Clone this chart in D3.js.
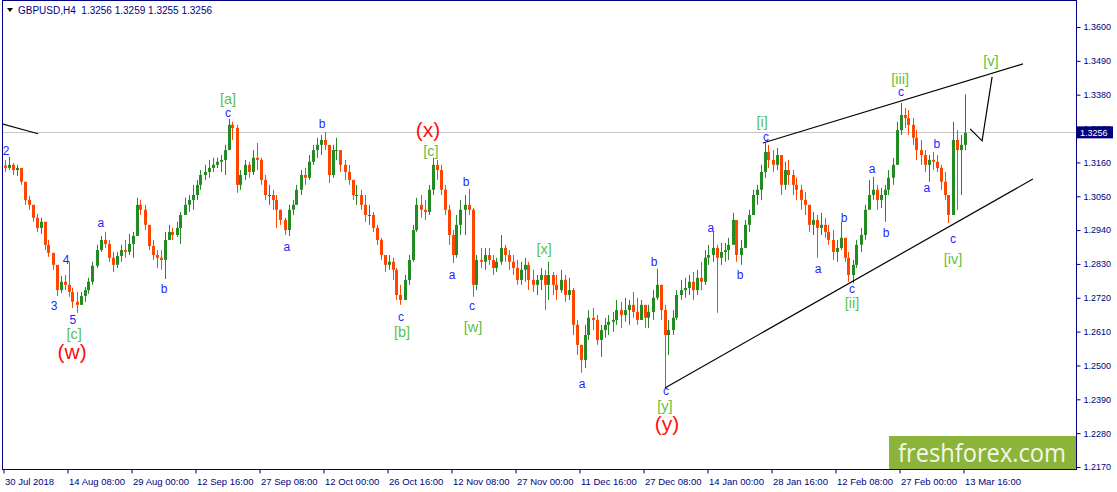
<!DOCTYPE html>
<html><head><meta charset="utf-8">
<script src="https://cdn.jsdelivr.net/npm/d3@7"></script>
<style>body{margin:0;background:#fff} svg{display:block}</style>
</head><body>
<svg id="c" width="1117" height="492"></svg>
<script>
const symbolTitle = "GBPUSD,H4  1.3256 1.3259 1.3255 1.3256";
const firstOpen = 1.3150;
const highs = [
1.3168,1.3178,1.3158,1.3152,1.3142,1.3077,1.3051,1.3022,1.2993,1.2980,
1.2928,1.2908,1.2859,1.2817,1.2791,1.2794,1.2837,1.2752,1.2739,1.2739,
1.2755,1.2785,1.2837,1.2892,1.2921,1.2934,1.2908,1.2869,1.2869,1.2892,
1.2908,1.2928,1.2934,1.3045,1.3038,1.3022,1.2940,1.2908,1.2875,1.2875,
1.2934,1.2957,1.2947,1.2967,1.2999,1.3045,1.3054,1.3087,1.3103,1.3135,
1.3152,1.3168,1.3175,1.3175,1.3184,1.3217,1.3301,1.3292,1.3282,1.3135,
1.3168,1.3162,1.3200,1.3223,1.3175,1.3119,1.3087,1.3071,1.3054,1.3006,
1.2980,1.3022,1.3038,1.3087,1.3135,1.3142,1.3184,1.3217,1.3240,1.3249,
1.3259,1.3200,1.3217,1.3240,1.3200,1.3168,1.3152,1.3103,1.3087,1.3071,
1.3054,1.3022,1.2999,1.2957,1.2915,1.2850,1.2859,1.2850,1.2817,1.2762,
1.2794,1.2859,1.2957,1.3045,1.3054,1.3038,1.3087,1.3175,1.3168,1.3152,
1.3087,1.3022,1.2940,1.2989,1.3038,1.3054,1.3074,1.3012,1.2859,1.2882,
1.2882,1.2882,1.2859,1.2850,1.2924,1.2892,1.2875,1.2859,1.2843,1.2837,
1.2850,1.2837,1.2811,1.2794,1.2817,1.2811,1.2837,1.2804,1.2794,1.2811,
1.2794,1.2785,1.2752,1.2648,1.2567,1.2632,1.2680,1.2687,1.2664,1.2632,
1.2655,1.2664,1.2674,1.2713,1.2707,1.2720,1.2713,1.2739,1.2720,1.2713,
1.2697,1.2697,1.2745,1.2814,1.2762,1.2697,1.2648,1.2680,1.2745,1.2778,
1.2785,1.2794,1.2804,1.2811,1.2837,1.2875,1.2892,1.2934,1.2892,1.2898,
1.2898,1.2915,1.2996,1.2967,1.2908,1.2973,1.3006,1.3071,1.3087,1.3152,
1.3223,1.3217,1.3200,1.3207,1.3175,1.3162,1.3168,1.3135,1.3110,1.3087,
1.3064,1.3022,1.2999,1.2989,1.2996,1.2980,1.2957,1.2940,1.2908,1.2967,
1.2908,1.2869,1.2843,1.2908,1.2947,1.3022,1.3103,1.3113,1.3087,1.3077,
1.3087,1.3135,1.3175,1.3292,1.3353,1.3337,1.3330,1.3304,1.3265,1.3233,
1.3200,1.3184,1.3194,1.3184,1.3152,1.3129,1.3054,1.3292,1.3265,1.3249,
1.3381];
const lows = [
1.3129,1.3135,1.3119,1.3116,1.3087,1.3022,1.3006,1.2967,1.2934,1.2928,
1.2875,1.2853,1.2811,1.2726,1.2736,1.2745,1.2723,1.2687,1.2671,1.2697,
1.2707,1.2733,1.2762,1.2817,1.2869,1.2882,1.2837,1.2804,1.2817,1.2837,
1.2850,1.2859,1.2850,1.2921,1.2989,1.2940,1.2875,1.2843,1.2817,1.2811,
1.2781,1.2908,1.2908,1.2918,1.2895,1.2989,1.2999,1.3006,1.3038,1.3071,
1.3103,1.3110,1.3129,1.3142,1.3129,1.3119,1.3217,1.3233,1.3061,1.3071,
1.3103,1.3110,1.3119,1.3135,1.3087,1.3038,1.3022,1.3006,1.2947,1.2957,
1.2924,1.2921,1.2989,1.3022,1.3054,1.3087,1.3103,1.3152,1.3175,1.3184,
1.3200,1.3093,1.3110,1.3168,1.3129,1.3103,1.3087,1.3038,1.3022,1.3006,
1.2967,1.2957,1.2934,1.2892,1.2843,1.2804,1.2811,1.2778,1.2713,1.2697,
1.2713,1.2762,1.2837,1.2934,1.2980,1.2973,1.2989,1.3054,1.3103,1.3054,
1.2989,1.2892,1.2833,1.2850,1.2924,1.2924,1.2989,1.2723,1.2745,1.2817,
1.2811,1.2827,1.2794,1.2804,1.2827,1.2837,1.2811,1.2794,1.2762,1.2762,
1.2772,1.2745,1.2739,1.2729,1.2745,1.2680,1.2713,1.2729,1.2713,1.2736,
1.2707,1.2713,1.2599,1.2534,1.2476,1.2492,1.2583,1.2615,1.2567,1.2528,
1.2590,1.2599,1.2609,1.2632,1.2622,1.2642,1.2632,1.2655,1.2632,1.2648,
1.2622,1.2622,1.2648,1.2713,1.2648,1.2424,1.2534,1.2599,1.2648,1.2713,
1.2720,1.2729,1.2713,1.2729,1.2745,1.2762,1.2827,1.2837,1.2671,1.2827,
1.2837,1.2843,1.2908,1.2837,1.2827,1.2892,1.2934,1.2989,1.3022,1.3038,
1.3110,1.3142,1.3129,1.3135,1.3054,1.3071,1.3087,1.3054,1.3038,1.3006,
1.2989,1.2934,1.2924,1.2850,1.2924,1.2915,1.2892,1.2843,1.2837,1.2875,
1.2837,1.2772,1.2768,1.2817,1.2869,1.2908,1.3022,1.3038,1.3006,1.3012,
1.2967,1.3054,1.3087,1.3168,1.3249,1.3272,1.3249,1.3217,1.3168,1.3152,
1.3129,1.3097,1.3135,1.3129,1.3071,1.3038,1.2963,1.2989,1.3006,1.3054,
1.3200];
const closes = [
1.3142,1.3152,1.3135,1.3142,1.3097,1.3038,1.3022,1.2980,1.2947,1.2967,
1.2892,1.2866,1.2827,1.2745,1.2772,1.2762,1.2739,1.2707,1.2697,1.2726,
1.2745,1.2772,1.2824,1.2875,1.2908,1.2895,1.2850,1.2827,1.2856,1.2875,
1.2869,1.2895,1.2921,1.3022,1.3006,1.2957,1.2888,1.2859,1.2850,1.2843,
1.2908,1.2934,1.2924,1.2947,1.2989,1.3022,1.3038,1.3054,1.3087,1.3119,
1.3129,1.3142,1.3152,1.3162,1.3168,1.3200,1.3282,1.3272,1.3087,1.3119,
1.3152,1.3129,1.3175,1.3168,1.3103,1.3054,1.3054,1.3038,1.3006,1.2973,
1.2940,1.3006,1.3022,1.3071,1.3119,1.3110,1.3162,1.3200,1.3217,1.3233,
1.3217,1.3119,1.3200,1.3200,1.3152,1.3129,1.3103,1.3054,1.3054,1.3022,
1.2989,1.2989,1.2947,1.2908,1.2859,1.2827,1.2837,1.2811,1.2729,1.2713,
1.2778,1.2843,1.2940,1.3022,1.3006,1.2999,1.3071,1.3152,1.3135,1.3071,
1.3006,1.2924,1.2859,1.2957,1.3006,1.3022,1.3006,1.2762,1.2843,1.2837,
1.2859,1.2843,1.2817,1.2837,1.2882,1.2859,1.2837,1.2817,1.2778,1.2811,
1.2827,1.2778,1.2762,1.2778,1.2794,1.2762,1.2794,1.2762,1.2745,1.2778,
1.2729,1.2745,1.2632,1.2567,1.2518,1.2599,1.2655,1.2648,1.2583,1.2615,
1.2632,1.2642,1.2648,1.2680,1.2664,1.2680,1.2697,1.2674,1.2648,1.2697,
1.2655,1.2674,1.2720,1.2762,1.2680,1.2599,1.2615,1.2655,1.2729,1.2745,
1.2752,1.2772,1.2745,1.2785,1.2772,1.2850,1.2859,1.2882,1.2850,1.2869,
1.2875,1.2892,1.2973,1.2859,1.2882,1.2957,1.2989,1.3054,1.3071,1.3129,
1.3194,1.3168,1.3152,1.3184,1.3087,1.3135,1.3119,1.3087,1.3071,1.3038,
1.3022,1.2957,1.2973,1.2947,1.2957,1.2934,1.2908,1.2869,1.2882,1.2915,
1.2850,1.2794,1.2827,1.2892,1.2924,1.3006,1.3054,1.3071,1.3038,1.3054,
1.3071,1.3110,1.3152,1.3265,1.3314,1.3304,1.3282,1.3240,1.3200,1.3184,
1.3152,1.3168,1.3162,1.3142,1.3097,1.3054,1.2989,1.3233,1.3200,1.3217,
1.3256];
const lastPrice = 1.3256;
const priceTicks = [1.2170,1.2280,1.2390,1.2500,1.2610,1.2720,1.2830,1.2940,1.3050,1.3160,1.3270,1.3380,1.3490,1.3600];
const timeTickBars = [0,16,32,48,64,80,96,112,128,144,160,176,192,208,224,240];
const timeTickLabels = ["30 Jul 2018","14 Aug 08:00","29 Aug 00:00","12 Sep 16:00","27 Sep 08:00","12 Oct 00:00","26 Oct 16:00","12 Nov 08:00","27 Nov 00:00","11 Dec 16:00","27 Dec 08:00","14 Jan 00:00","28 Jan 16:00","12 Feb 08:00","27 Feb 00:00","13 Mar 16:00"];
// wave labels: [text, bar, price]
const minorLabels = [["2",0.4,1.3197],["3",12.4,1.2694],["4",15.4,1.2843],["5",17.1,1.2648],["a",24.1,1.2963],["b",39.9,1.2749],["c",55.9,1.3321],
["a",70.6,1.2885],["b",79.4,1.3285],["c",99.1,1.2658],["a",111.9,1.2794],["b",115.4,1.3097],["c",116.9,1.2694],["a",144.4,1.2440],["b",162.4,1.2837],["c",165.4,1.2418],
["a",176.6,1.2947],["b",183.9,1.2794],["c",190.4,1.3243],["a",203.4,1.2814],["b",209.9,1.2980],["c",211.9,1.2749],["a",216.9,1.3139],["b",220.4,1.2931],["c",224.1,1.3389],["a",230.6,1.3077],["b",233.1,1.3220],["c",237.1,1.2911]];
const minuteLabels = [["[c]",17.4,1.2603],["[a]",55.9,1.3366],["[b]",99.4,1.2609],["[c]",106.6,1.3197],["[w]",117.1,1.2626],["[x]",134.9,1.2879],["[y]",165.1,1.2369],
["[i]",189.4,1.3291],["[ii]",211.9,1.2704],["[iii]",223.9,1.3431],["[iv]",237.1,1.2847],["[v]",246.6,1.3490]];
const minorDegreeLabels = [["(w)",16.9,1.2544],["(x)",105.9,1.3266],["(y)",165.6,1.2310]];
const upperChannel = [[189.6,1.3223],[254.6,1.3480]];
const lowerChannel = [[165.1,1.2427],[257.1,1.3106]];
const leftLine = [[-0.6,1.3285],[8.4,1.3253]];
const projection = [[241.4,1.3269],[244.4,1.3230],[246.9,1.3438]];

const svg = d3.select("#c");
const plotL = 2, plotR = 1076, plotT = 0, plotB = 469;
const x = d3.scaleLinear().domain([0,240]).range([3,963]);
const cx = i => x(i) + 1.5;
const y = d3.scaleLinear().domain([1.2170,1.3600]).range([467,27]);
const navy = "#000080";
const font = "'Liberation Sans', Arial, sans-serif";

svg.append("defs").append("clipPath").attr("id","clip")
  .append("rect").attr("x",plotL+1).attr("y",plotT+1).attr("width",plotR-plotL-1).attr("height",plotB-plotT-1);
const plot = svg.append("g").attr("clip-path","url(#clip)");

// current price line
plot.append("line").attr("x1",plotL).attr("x2",plotR)
  .attr("y1",Math.round(y(lastPrice))-0.5).attr("y2",Math.round(y(lastPrice))-0.5)
  .attr("stroke","#c8c8c8").attr("stroke-width",1);

// candles
const candles = closes.map((c,i)=>({i, o: i===0?firstOpen:closes[i-1], h: highs[i], l: lows[i], c}));
const colUp = "#228b22", colDn = "#ff4500";
const cg = plot.append("g");
candles.forEach(d=>{
  const col = d.c >= d.o ? colUp : colDn;
  const xc = Math.round(cx(d.i));
  cg.append("line").attr("x1",xc+0.5).attr("x2",xc+0.5).attr("y1",y(d.h)).attr("y2",y(d.l))
    .attr("stroke",col).attr("stroke-width",1);
  const top = y(Math.max(d.o,d.c)), bot = y(Math.min(d.o,d.c));
  cg.append("rect").attr("x",xc-1).attr("width",3).attr("y",top).attr("height",Math.max(1,bot-top)).attr("fill",col);
});

// lines
const line = d3.line().x(d=>cx(d[0])).y(d=>y(d[1]));
[upperChannel, lowerChannel, leftLine, projection].forEach(p=>{
  plot.append("path").attr("d",line(p)).attr("fill","none").attr("stroke","#000").attr("stroke-width",1.2);
});

// wave labels
function labels(arr, size, color){
  plot.selectAll(null).data(arr).enter().append("text")
    .attr("x",d=>cx(d[1])).attr("y",d=>y(d[2]) + size*0.36)
    .attr("text-anchor","middle").attr("font-family",font).attr("font-size",size)
    .attr("fill",color).text(d=>d[0]);
}
labels(minorLabels, 12, "#1f1fff");
labels(minuteLabels, 14.5, "#5cc245");
labels(minorDegreeLabels, 21, "#ff1010");

// watermark
svg.append("rect").attr("x",889).attr("y",436).attr("width",187).attr("height",33).attr("fill","#8cb43a");
svg.append("text").attr("x",898).attr("y",462).attr("font-family","'Open Sans', 'Liberation Sans', sans-serif")
  .attr("font-size",26).attr("fill","#f4f7e8").attr("textLength",168).attr("lengthAdjust","spacingAndGlyphs").text("freshforex.com");

// frame
svg.append("rect").attr("x",plotL+0.5).attr("y",plotT+0.5).attr("width",plotR-plotL).attr("height",plotB-plotT)
  .attr("fill","none").attr("stroke",navy).attr("stroke-width",1);

// right axis
const yAxis = d3.axisRight(y).tickValues(priceTicks).tickSize(4).tickPadding(3).tickFormat(d3.format(".4f"));
const ya = svg.append("g").attr("transform",`translate(${plotR+0.5},0)`).call(yAxis);
ya.select(".domain").remove();
ya.selectAll("line").attr("stroke",navy);
ya.selectAll("text").attr("fill",navy).attr("font-family",font).attr("font-size",9);

// current price box
const py = y(lastPrice);
svg.append("rect").attr("x",plotR+1).attr("y",py-6.5).attr("width",36).attr("height",12).attr("fill",navy);
svg.append("text").attr("x",plotR+4).attr("y",py+3.5).attr("fill","#fff").attr("font-family",font).attr("font-size",9).text(d3.format(".4f")(lastPrice));

// bottom axis
const xAxis = d3.axisBottom(x).tickValues(timeTickBars).tickSize(4).tickFormat((d,k)=>timeTickLabels[k]);
const xa = svg.append("g").attr("transform",`translate(0.5,${plotB+0.5})`).call(xAxis);
xa.select(".domain").remove();
xa.selectAll("line").attr("stroke",navy);
xa.selectAll("text").attr("fill",navy).attr("font-family",font).attr("font-size",9.5)
  .attr("text-anchor","start").attr("dx",1).attr("dy","0.85em");

// title
svg.append("path").attr("d","M7,8 L13,8 L10,12 Z").attr("fill","#000");
svg.append("text").attr("x",18).attr("y",14).attr("fill",navy).attr("font-family",font).attr("font-size",10)
  .attr("xml:space","preserve").text(symbolTitle);
</script>
</body></html>
